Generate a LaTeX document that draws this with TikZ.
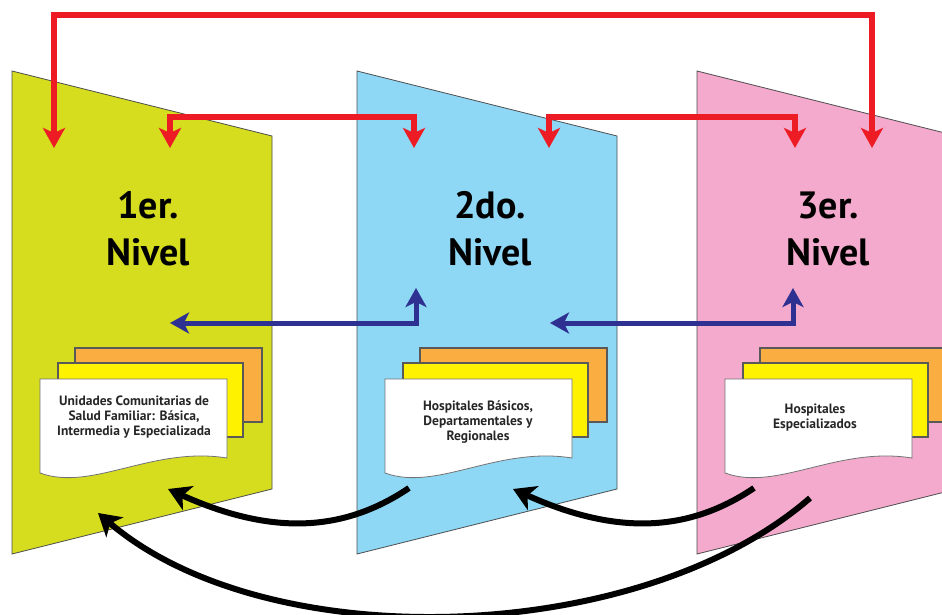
\documentclass[tikz,border=0pt]{standalone}
\usepackage{fontspec}
\setmainfont{PT Sans}
\usetikzlibrary{arrows.meta}

\definecolor{levelone}{HTML}{D6DC1E}
\definecolor{leveltwo}{HTML}{8ED8F6}
\definecolor{levelthree}{HTML}{F3AACC}
\definecolor{sheetorange}{HTML}{FAAD40}
\definecolor{sheetyellow}{HTML}{FFF200}
\definecolor{linkred}{HTML}{ED1C24}
\definecolor{linkblue}{HTML}{2E3192}

\tikzset{
  panel/.style={draw=black!70, line width=0.8pt},
  sheet/.style={draw=black!65, line width=1.3pt},
  docpage/.style={draw=black!55, line width=0.8pt, fill=white},
  leveltitle/.style={font=\bfseries\fontsize{38}{47}\selectfont, align=center, inner sep=0pt},
  doclabel/.style={font=\bfseries\fontsize{13.5}{15}\selectfont, align=center, inner sep=0pt, text=black!85},
  redlink/.style={draw=linkred, line width=6pt, >={Stealth[length=20pt,width=22pt,inset=5pt]}, <->},
  bluelink/.style={draw=linkblue, line width=5pt, >={Stealth[length=19pt,width=21pt,inset=5pt]}, <->},
  referral/.style={draw=black, line width=6pt, -{Stealth[length=22pt,width=26pt,inset=6pt]}}
}

\begin{document}
\begin{tikzpicture}[x=1pt,y=-1pt]
\useasboundingbox (0,0) rectangle (942,615);
\clip (0,0) rectangle (942,615);

% the three levels of care, each a slanted panel with a stack of sheets
\foreach \px/\col in {12/levelone, 357/leveltwo, 697/levelthree} {
  \path[panel, fill=\col] (\px,71) -- (\px+260,136) -- (\px+260,489) -- (\px,554) -- cycle;
  \path[sheet, fill=sheetorange] (\px+63,348) rectangle (\px+250,422);
  \path[sheet, fill=sheetyellow] (\px+46,363) rectangle (\px+231,437);
  \path[docpage] (\px+28,379) -- (\px+215,379) -- (\px+215,458)
     .. controls (\px+140,446) and (\px+80,492) .. (\px+28,473) -- cycle;
}

% level titles
\node[leveltitle] (t1) at (148,229) {1er.\\Nivel};
\node[leveltitle] (t2) at (490,229) {2do.\\Nivel};
\node[leveltitle] (t3) at (828,229) {3er.\\Nivel};

% establishments at each level
\node[doclabel] (d1) at (134,417) {Unidades Comunitarias de\\Salud Familiar: Básica,\\Intermedia y Especializada};
\node[doclabel] (d2) at (478,422) {Hospitales Básicos,\\Departamentales y\\Regionales};
\node[doclabel] (d3) at (815,418) {Hospitales\\Especializados};

% connector ends
\coordinate (ra1) at (54,148);  \coordinate (ra3) at (872,148);
\coordinate (rb1) at (170,148); \coordinate (rb2) at (414,148);
\coordinate (rc2) at (549,148); \coordinate (rc3) at (795,148);
\coordinate (ba1) at (170,323); \coordinate (ba2) at (416,288);
\coordinate (bb2) at (550,323); \coordinate (bb3) at (793,288);
\coordinate (ka2) at (409,488); \coordinate (ka1) at (168,489);
\coordinate (kb3) at (754,488); \coordinate (kb2) at (513,489);
\coordinate (kc3) at (810,498); \coordinate (kc1) at (98,513);

% red links between levels
\draw[redlink] (ra1) -- ++(0,-133) -| (ra3);
\draw[redlink] (rb1) -- ++(0,-31) -| (rb2);
\draw[redlink] (rc2) -- ++(0,-31) -| (rc3);

% blue counter-referral links
\draw[bluelink] (ba1) -| (ba2);
\draw[bluelink] (bb2) -| (bb3);

% black return arrows
\draw[referral] (ka2) .. controls +(-68,46) and +(100,45) .. (ka1);
\draw[referral] (kb3) .. controls +(-68,46) and +(100,45) .. (kb2);
\draw[referral] (kc3) .. controls +(-170,148) and +(170,145) .. (kc1);
\end{tikzpicture}
\end{document}
